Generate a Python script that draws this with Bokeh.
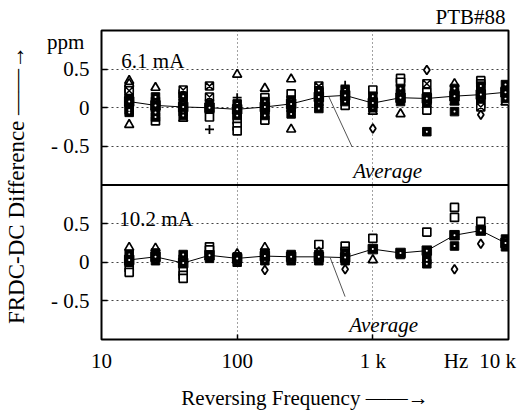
import numpy as np
from bokeh.plotting import figure
from bokeh.models import (Range1d, FixedTicker, Span, Label, Arrow, LinearAxis, LogAxis)
from bokeh.embed import file_html
from bokeh.resources import INLINE

# ---------------- data ----------------
freqs = [16, 25, 40, 62.5, 100, 160, 250, 400, 625, 1000, 1600, 2500, 4000, 6250, 9500]

# 6.1 mA
avg_61 = [0.08, 0.03, 0.01, 0.0, -0.02, 0.01, 0.05, 0.14, 0.16, 0.06, 0.13, 0.12, 0.15, 0.17, 0.20]
tri_61_f = [16, 16, 16, 25, 40, 100, 160, 250, 250, 1000, 1600, 4000, 4000, 9500]
tri_61_v = [0.35, 0.31, -0.22, 0.26, -0.14, 0.43, 0.25, 0.37, -0.28, -0.05, -0.08, 0.31, 0.07, 0.07]
sq_61_f = [16, 16, 25, 40, 62.5, 100, 100, 100, 160, 160, 250, 400, 625, 1000, 1600, 1600,
           2500, 2500, 2500, 6250, 6250]
sq_61_v = [0.25, 0.19, -0.17, 0.18, -0.12, -0.16, -0.24, -0.30, 0.13, -0.16, 0.18, 0.20, 0.03, 0.23,
           0.38, 0.33, 0.20, 0.09, -0.03, 0.35, 0.31]
sqx_61_f = [16, 40, 62.5, 62.5, 400, 2500, 6250, 6250]
sqx_61_v = [0.22, 0.23, 0.28, 0.14, 0.28, 0.31, 0.05, 0.01]
fill_61_f = [16, 16, 16, 16, 25, 25, 25, 25, 25, 40, 40, 40, 40, 62.5, 62.5, 100, 100, 100,
             160, 160, 160, 250, 250, 250, 400, 400, 400, 400, 625, 625, 625, 1000, 1000, 1000,
             1600, 1600, 1600, 2500, 2500, 2500, 4000, 4000, 4000, 4000, 6250, 6250, 6250,
             9500, 9500, 9500]
fill_61_v = [0.12, 0.05, -0.03, -0.06, 0.14, 0.08, 0.0, -0.06, -0.12, 0.15, 0.06, -0.05, -0.10,
             0.05, -0.02, 0.05, -0.05, -0.10, 0.08, -0.03, -0.10, 0.10, 0.0, -0.08,
             0.22, 0.17, 0.08, -0.01, 0.23, 0.13, 0.08, 0.15, 0.08, 0.0, 0.25, 0.18, 0.08,
             0.14, 0.06, -0.31, 0.25, 0.18, 0.10, -0.05, 0.28, 0.20, 0.12, 0.30, 0.22, 0.12]
plus_61_f = [62.5, 100, 625]
plus_61_v = [-0.28, 0.13, 0.29]
dia_61_f = [1000, 2500, 6250]
dia_61_v = [-0.27, 0.49, -0.09]

# 10.2 mA
avg_102 = [0.03, 0.07, -0.01, 0.09, 0.05, 0.08, 0.07, 0.07, 0.06, 0.17, 0.12, 0.15, 0.35, 0.41, 0.25]
tri_102_f = [16, 25, 100, 160, 1000]
tri_102_v = [0.19, 0.18, 0.11, 0.19, 0.03]
sq_102_f = [16, 16, 40, 40, 40, 62.5, 62.5, 400, 625, 625, 1000, 2500, 4000, 4000, 6250]
sq_102_v = [-0.07, -0.13, -0.12, -0.17, -0.21, 0.20, 0.16, 0.23, 0.21, 0.14, 0.31, 0.39,
            0.71, 0.58, 0.53]
fill_102_f = [16, 16, 25, 25, 40, 40, 62.5, 100, 100, 160, 160, 250, 250, 400, 400, 625, 625,
              1600, 2500, 2500, 4000, 9500, 9500]
fill_102_v = [0.10, 0.0, 0.12, 0.02, 0.10, 0.04, 0.05, 0.07, 0.0, 0.12, 0.02, 0.10, 0.02,
              0.10, 0.02, 0.12, 0.02, 0.10, 0.03, -0.02, 0.21, 0.30, 0.20]
dia_102_f = [160, 400, 625, 4000, 6250]
dia_102_v = [-0.10, 0.14, -0.09, -0.09, 0.24]

# tick labels (the bottom panel shares the same labels on its own range)
x_ticks = [10, 100, 1000]
x_tick_labels = ["10", "100", "1 k"]
y_ticks = [-2.5, -2.0, -1.5, -0.5, 0.0, 0.5]
y_tick_labels = ["- 0.5", "0", "0.5", "- 0.5", "0", "0.5"]

# ---------------- layout ----------------
W, H = 517, 412
L, R, T, B = 97, 508, 30, 340
FONT = "Liberation Serif"
FS = "21px"

def px_x(px):
    return 10 ** (1 + (px - L) / ((R - L) / 3.0))
def px_y(py):
    return 1 - (py - T) / ((B - T) / 4.0)

p = figure(width=W, height=H, x_axis_type="log", x_range=Range1d(10, 10000),
           y_range=Range1d(-3, 1), output_backend="svg", toolbar_location=None,
           min_border_left=L, min_border_right=W - R, min_border_top=T,
           min_border_bottom=H - B, title="PTB#88")
p.extra_y_ranges = {"i102": Range1d(-1, 3)}
p.background_fill_color = "white"
p.border_fill_color = "white"
p.outline_line_color = "black"
p.outline_line_width = 2

p.title.align = "right"
p.title.offset = 3
p.title.standoff = 3
p.title.text_font = FONT
p.title.text_font_size = FS
p.title.text_font_style = "normal"
p.title.text_color = "black"

# inner tick marks (axes nearest the frame, labels invisible)
xt = p.xaxis[0]
xt.ticker = FixedTicker(ticks=[100, 1000])
xt.major_label_overrides = {100: " ", 1000: " "}
xt.major_tick_in = 5
xt.major_tick_out = 0
xt.minor_tick_line_color = None
xt.axis_line_color = None
xt.major_tick_line_width = 1.5
xt.major_label_text_font_size = "1px"
xt.major_label_text_alpha = 0
xt.major_label_standoff = 0

yt = p.yaxis[0]
yt.ticker = FixedTicker(ticks=y_ticks)
yt.major_label_overrides = {t: " " for t in y_ticks}
yt.major_tick_in = 6
yt.major_tick_out = 0
yt.minor_tick_line_color = None
yt.axis_line_color = None
yt.major_tick_line_width = 1.5
yt.major_label_text_font_size = "1px"
yt.major_label_text_alpha = 0
yt.major_label_standoff = 0

# labelled axes
hz_pos = px_x(455)
tenk_pos = px_x(497)
xl = LogAxis(ticker=FixedTicker(ticks=x_ticks + [hz_pos, tenk_pos]),
             major_label_overrides=dict(zip(x_ticks + [hz_pos, tenk_pos],
                                            x_tick_labels + ["Hz", "10 k"])),
             major_tick_line_color=None, minor_tick_line_color=None, axis_line_color=None,
             major_tick_in=0, major_tick_out=0,
             major_label_standoff=9, major_label_text_font=FONT,
             major_label_text_font_size=FS, major_label_text_color="black",
             axis_label="Reversing Frequency \u2014\u2014\u2192", axis_label_standoff=10,
             axis_label_text_font=FONT, axis_label_text_font_size=FS,
             axis_label_text_font_style="normal", axis_label_text_color="black")
p.add_layout(xl, "below")

ppm_pos = px_y(42)
yl = LinearAxis(ticker=FixedTicker(ticks=y_ticks + [ppm_pos]),
                major_label_overrides=dict(zip(y_ticks + [ppm_pos], y_tick_labels + ["ppm "])),
                major_tick_line_color=None, minor_tick_line_color=None, axis_line_color=None,
                major_tick_in=0, major_tick_out=0,
                major_label_standoff=12, major_label_text_font=FONT,
                major_label_text_font_size=FS, major_label_text_color="black",
                axis_label="FRDC-DC Difference \u2014\u2014\u2192", axis_label_standoff=15,
                axis_label_text_font=FONT, axis_label_text_font_size="23px",
                axis_label_text_font_style="normal", axis_label_text_color="black")
p.add_layout(yl, "left")

p.xgrid.ticker = FixedTicker(ticks=[100, 1000])
p.xgrid.grid_line_color = "#444444"
p.xgrid.grid_line_dash = "1 3"
p.xgrid.grid_line_width = 1
p.ygrid.ticker = FixedTicker(ticks=y_ticks)
p.ygrid.grid_line_color = "#444444"
p.ygrid.grid_line_dash = "2 3"
p.ygrid.grid_line_width = 1

p.add_layout(Span(location=-1, dimension="width", line_color="black", line_width=2))

def draw(rng, tri_f, tri_v, sq_f, sq_v, fill_f, fill_v, dia_f, dia_v, avg,
         sqx_f=None, sqx_v=None, plus_f=None, plus_v=None):
    kw = {} if rng is None else {"y_range_name": rng}
    p.scatter(tri_f, tri_v, marker="triangle", size=9, fill_color="white",
              line_color="black", line_width=1.7, **kw)
    p.scatter(sq_f, sq_v, marker="square", size=8, fill_color="white",
              line_color="black", line_width=1.7, **kw)
    if sqx_f:
        p.scatter(sqx_f, sqx_v, marker="square_x", size=8, fill_color="white",
                  line_color="black", line_width=1.5, **kw)
    if plus_f:
        p.scatter(plus_f, plus_v, marker="cross", size=9, line_color="black",
                  line_width=1.8, **kw)
    p.scatter(dia_f, dia_v, marker="diamond", size=9, fill_color="white",
              line_color="black", line_width=1.8, **kw)
    p.scatter(fill_f, fill_v, marker="square", size=8.5, fill_color="black",
              line_color="black", **kw)
    p.scatter(fill_f, fill_v, marker="circle", size=2, fill_color="white",
              line_color=None, **kw)
    p.line(freqs, avg, line_color="black", line_width=1, **kw)
    p.scatter(freqs, avg, marker="square", size=9.5, fill_color="black",
              line_color="black", **kw)
    p.scatter(freqs, avg, marker="circle", size=2, fill_color="white",
              line_color=None, **kw)

draw(None, tri_61_f, tri_61_v, sq_61_f, sq_61_v, fill_61_f, fill_61_v, dia_61_f, dia_61_v,
     avg_61, sqx_61_f, sqx_61_v, plus_61_f, plus_61_v)
draw("i102", tri_102_f, tri_102_v, sq_102_f, sq_102_v, fill_102_f, fill_102_v,
     dia_102_f, dia_102_v, avg_102)

def label(px, py, text, align="left", style="normal"):
    p.add_layout(Label(x=px_x(px), y=px_y(py), text=text, text_align=align,
                       text_baseline="alphabetic", text_font=FONT, text_font_size=FS,
                       text_font_style=style, text_color="black"))

label(117, 61, "6.1 mA")
label(115, 219, "10.2 mA")
label(386, 171, "Average", align="center", style="italic")
label(382, 325, "Average", align="center", style="italic")

# leader lines from the average curve to its caption
p.add_layout(Arrow(end=None, x_start=px_x(326.7), y_start=px_y(96.7), x_end=px_x(350),
                   y_end=px_y(146.7), line_color="#555555", line_width=1))
p.add_layout(Arrow(end=None, x_start=px_x(328), y_start=px_y(258), x_end=px_x(343),
                   y_end=px_y(297), line_color="#555555", line_width=1))

open("out.html", "w").write(file_html(p, INLINE))
